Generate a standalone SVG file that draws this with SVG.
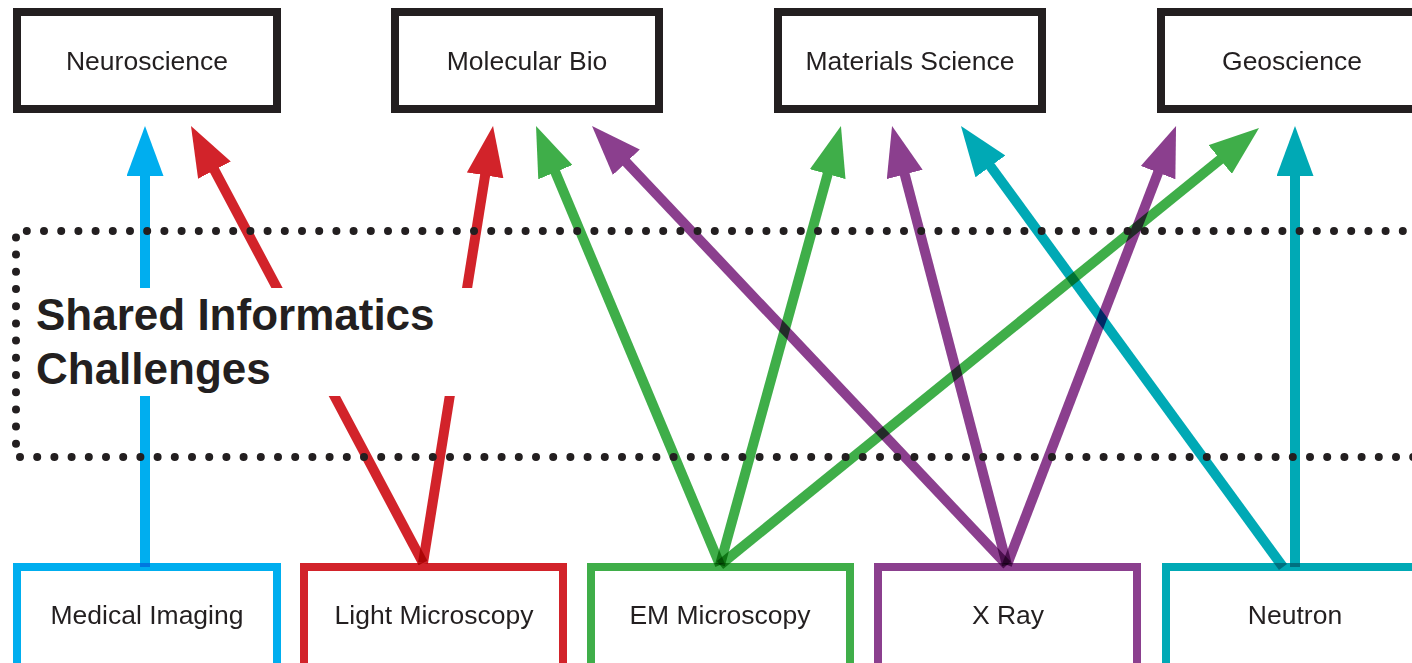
<svg xmlns="http://www.w3.org/2000/svg" width="1412" height="663" viewBox="0 0 1412 663">
<style>
.top rect{fill:#fff;stroke:#231f20;stroke-width:8}
.src rect{fill:#fff;stroke-width:8}
.lbl{font-family:"Liberation Sans",Arial,sans-serif;font-size:26.5px;fill:#231f20;text-anchor:middle}
.title{font-family:"Liberation Sans",Arial,sans-serif;font-size:44px;font-weight:bold;fill:#231f20}
.ln{fill:none;stroke-width:10;stroke-linecap:butt;mix-blend-mode:multiply}
.blue{stroke:#00aeef}.red{stroke:#d2232a}.green{stroke:#3fae49}.purple{stroke:#8b3f8e}.teal{stroke:#00a9b5}
</style>
<defs>
<marker id="hb" markerUnits="userSpaceOnUse" markerWidth="50" markerHeight="37" refX="34" refY="18.5" orient="auto"><path d="M0,0 L50,18.5 L0,37 z" fill="#00aeef"/></marker>
<marker id="hr" markerUnits="userSpaceOnUse" markerWidth="50" markerHeight="37" refX="34" refY="18.5" orient="auto"><path d="M0,0 L50,18.5 L0,37 z" fill="#d2232a"/></marker>
<marker id="hg" markerUnits="userSpaceOnUse" markerWidth="50" markerHeight="37" refX="34" refY="18.5" orient="auto"><path d="M0,0 L50,18.5 L0,37 z" fill="#3fae49"/></marker>
<marker id="hp" markerUnits="userSpaceOnUse" markerWidth="50" markerHeight="37" refX="34" refY="18.5" orient="auto"><path d="M0,0 L50,18.5 L0,37 z" fill="#8b3f8e"/></marker>
<marker id="ht" markerUnits="userSpaceOnUse" markerWidth="50" markerHeight="37" refX="34" refY="18.5" orient="auto"><path d="M0,0 L50,18.5 L0,37 z" fill="#00a9b5"/></marker>
</defs>
<rect width="1412" height="663" fill="#fff"/>

<g id="neuroscience" class="top"><rect x="17" y="12" width="260" height="97"/><text class="lbl" x="147" y="70">Neuroscience</text></g>
<g id="molecular-bio" class="top"><rect x="395" y="12" width="264" height="97"/><text class="lbl" x="527" y="70">Molecular Bio</text></g>
<g id="materials-science" class="top"><rect x="778" y="12" width="264" height="97"/><text class="lbl" x="910" y="70">Materials Science</text></g>
<g id="geoscience" class="top"><rect x="1161" y="12" width="264" height="97"/><text class="lbl" x="1292" y="70">Geoscience</text></g>

<g id="medical-imaging" class="src"><rect x="17" y="567" width="260" height="110" stroke="#00aeef"/><text class="lbl" x="147" y="624">Medical Imaging</text></g>
<g id="light-microscopy" class="src"><rect x="304" y="567" width="259" height="110" stroke="#d2232a"/><text class="lbl" x="434" y="624">Light Microscopy</text></g>
<g id="em-microscopy" class="src"><rect x="591" y="567" width="259" height="110" stroke="#3fae49"/><text class="lbl" x="720" y="624">EM Microscopy</text></g>
<g id="x-ray" class="src"><rect x="878" y="567" width="259" height="110" stroke="#8b3f8e"/><text class="lbl" x="1008" y="624">X Ray</text></g>
<g id="neutron" class="src"><rect x="1166" y="567" width="262" height="110" stroke="#00a9b5"/><text class="lbl" x="1295" y="624">Neutron</text></g>

<g id="connectors">
<path class="ln blue" d="M145,567 L145,142" marker-end="url(#hb)"/>
<path class="ln red" d="M423,563 L198.5,140.1" marker-end="url(#hr)"/>
<path class="ln red" d="M423,563 L490.5,141.8" marker-end="url(#hr)"/>
<path class="ln green" d="M720,565 L542.2,140.8" marker-end="url(#hg)"/>
<path class="ln green" d="M720,565 L836.7,141.4" marker-end="url(#hg)"/>
<path class="ln green" d="M720,565 L1246.6,138.1" marker-end="url(#hg)"/>
<path class="ln purple" d="M1007,565 L603,137.6" marker-end="url(#hp)"/>
<path class="ln purple" d="M1007,565 L896.1,141.5" marker-end="url(#hp)"/>
<path class="ln purple" d="M1007,565 L1170.3,140.9" marker-end="url(#hp)"/>
<path class="ln teal" d="M1283,567 L970.4,138.9" marker-end="url(#ht)"/>
<path class="ln teal" d="M1295,567 L1295,142" marker-end="url(#ht)"/>
</g>

<g id="shared-informatics">
<rect x="26" y="288" width="460" height="108" fill="#fff"/>
<path d="M1420,231 H16 V457 H1420" fill="none" stroke="#231f20" stroke-width="8" stroke-linecap="round" stroke-dasharray="0 17.2"/>
<text class="title" x="36" y="330">Shared Informatics</text>
<text class="title" x="36" y="384">Challenges</text>
</g>
</svg>
